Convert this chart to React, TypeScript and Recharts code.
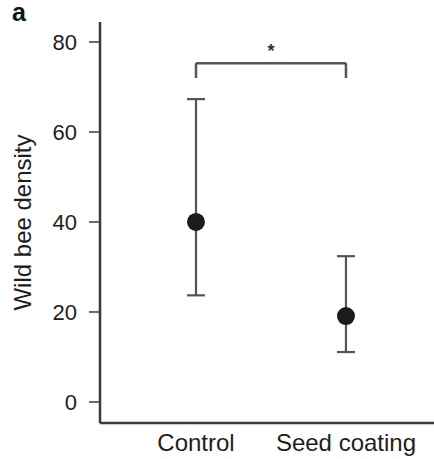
import React from 'react';
import {
  ComposedChart,
  Scatter,
  XAxis,
  YAxis,
  ErrorBar,
  ReferenceLine,
  ReferenceDot,
  Label,
} from 'recharts';

const categories = ['Control', 'Seed coating'];
const means = [40, 19.1];
const lowerCI = [23.7, 11.1];
const upperCI = [67.3, 32.4];
const yTicks = [0, 20, 40, 60, 80];
const bracketY = 75.3;
const bracketDrop = 72;
const sigLabel = '*';
const panelLabel = 'a';
const yLabel = 'Wild bee density';

const data = categories.map((c, i) => ({
  x: i + 1,
  name: c,
  y: means[i],
  err: [means[i] - lowerCI[i], upperCI[i] - means[i]],
}));

const FONT = '"Liberation Sans", Arial, Helvetica, sans-serif';
const AXIS = '#3a3a3a';
const TEXT = '#1e1e1e';

const Dot = (p: any) => <circle cx={p.cx} cy={p.cy} r={9} fill="#1c1a1a" />;

export default function App() {
  return (
    <div style={{ position: 'absolute', left: 0, top: 0, width: 434, height: 459, background: '#fff' }}>
      <ComposedChart
        width={434}
        height={459}
        data={data}
        margin={{ top: 22, right: 0, bottom: 0, left: 0 }}
        style={{ fontFamily: FONT }}
      >
        <XAxis
          type="number"
          dataKey="x"
          domain={[0.36, 2.587]}
          ticks={[1, 2]}
          allowDataOverflow
          tickFormatter={(v: number) => categories[v - 1]}
          height={36}
          tickLine={false}
          tickSize={6}
          tickMargin={5}
          axisLine={{ stroke: AXIS, strokeWidth: 2.5 }}
          tick={{ fill: TEXT, fontSize: 24, fontFamily: FONT }}
        />
        <YAxis
          type="number"
          domain={[-4.67, 84.44]}
          ticks={yTicks}
          allowDataOverflow
          width={100}
          tickSize={11}
          tickMargin={12}
          tickLine={{ stroke: AXIS, strokeWidth: 1.5 }}
          axisLine={{ stroke: AXIS, strokeWidth: 2.5 }}
          tick={{ fill: TEXT, fontSize: 22, fontFamily: FONT }}
        >
          <Label
            value={yLabel}
            angle={-90}
            position="center"
            dx={-28}
            style={{ fill: TEXT, fontSize: 24, fontFamily: FONT, textAnchor: 'middle' }}
          />
        </YAxis>
        <ReferenceLine
          segment={[{ x: 1, y: bracketY }, { x: 2, y: bracketY }]}
          stroke="#555"
          strokeWidth={2.5}
          ifOverflow="visible"
        />
        <ReferenceLine
          segment={[{ x: 1, y: bracketDrop }, { x: 1, y: bracketY }]}
          stroke="#555"
          strokeWidth={2.5}
          ifOverflow="visible"
        />
        <ReferenceLine
          segment={[{ x: 2, y: bracketDrop }, { x: 2, y: bracketY }]}
          stroke="#555"
          strokeWidth={2.5}
          ifOverflow="visible"
        />
        <ReferenceDot
          x={1.5}
          y={bracketY}
          r={0}
          fill="none"
          stroke="none"
          ifOverflow="visible"
          label={{ value: sigLabel, position: 'top', offset: 6, fill: '#333', fontSize: 18, fontWeight: 'bold', fontFamily: FONT }}
        />
        <Scatter dataKey="y" shape={Dot} isAnimationActive={false}>
          <ErrorBar dataKey="err" direction="y" width={9} stroke="#555" strokeWidth={2.2} />
        </Scatter>
      </ComposedChart>
      <div
        style={{
          position: 'absolute',
          left: 12,
          top: 0,
          fontFamily: FONT,
          fontWeight: 'bold',
          fontSize: 25,
          lineHeight: '25px',
          color: '#111',
        }}
      >
        {panelLabel}
      </div>
    </div>
  );
}
